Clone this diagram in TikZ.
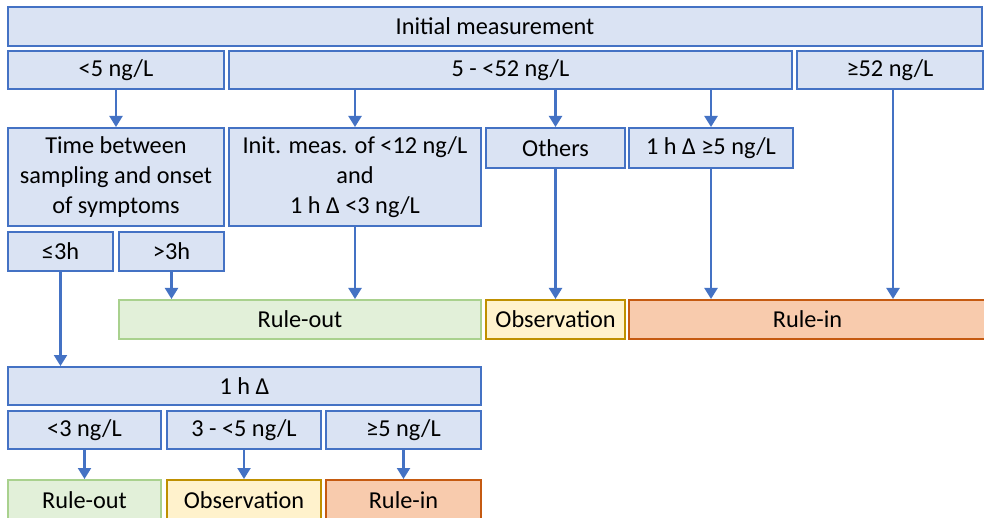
\documentclass[tikz,border=0pt]{standalone}
\usepackage{fontspec}
\setmainfont{Carlito}
\usetikzlibrary{arrows.meta}
\definecolor{bfill}{HTML}{DAE3F3}
\definecolor{bdraw}{HTML}{4472C4}
\definecolor{gfill}{HTML}{E2F0D9}
\definecolor{gdraw}{HTML}{A9D18E}
\definecolor{yfill}{HTML}{FFF2CC}
\definecolor{ydraw}{HTML}{BF9000}
\definecolor{ofill}{HTML}{F8CBAD}
\definecolor{odraw}{HTML}{C55A11}
\tikzset{
  base/.style={rectangle, line width=2pt, inner sep=0pt, align=center,
    font=\fontsize{24.3}{30}\selectfont, text=black},
  bbox/.style={base, fill=bfill, draw=bdraw},
  gbox/.style={base, fill=gfill, draw=gdraw},
  ybox/.style={base, fill=yfill, draw=ydraw},
  obox/.style={base, fill=ofill, draw=odraw},
  arr/.style={draw=bdraw, line width=2.2pt, -{Triangle[width=13pt,length=11pt]}},
}
\newcommand{\bx}[7]{% style, name, x1, y1, x2, y2, text
  \node[#1, minimum width={(#5-#3)*1pt}, minimum height={(#6-#4)*1pt}] (#2) at ({(#3+#5)/2},{(#4+#6)/2}) {#7};}
\begin{document}
\begin{tikzpicture}[x=1pt,y=-1pt]
\useasboundingbox (0,0) rectangle (984,518);
\fill[white] (0,0) rectangle (984,518);
\bx{bbox}{init}{8}{7}{982}{46}{Initial measurement}
\bx{bbox}{lt5}{8}{51}{224}{89}{<5 ng/L}
\bx{bbox}{mid}{229}{51}{792}{89}{5 - <52 ng/L}
\bx{bbox}{ge52}{797}{51}{983}{89}{≥52 ng/L}
\bx{bbox}{time}{8}{128}{224}{226}{Time between\\sampling and onset\\of symptoms}
\bx{bbox}{imeas}{229}{128}{481}{226}{Init. meas. of <12 ng/L\\and\\1 h Δ <3 ng/L}
\bx{bbox}{others}{486}{128}{625}{168}{Others}
\bx{bbox}{dge5}{629}{128}{793}{168}{1 h Δ ≥5 ng/L}
\bx{bbox}{le3h}{8}{232}{113}{271}{≤3h}
\bx{bbox}{gt3h}{119}{232}{224}{271}{>3h}
\bx{gbox}{ruleout}{119}{300}{481}{339}{Rule-out}
\bx{ybox}{obs}{486}{300}{625}{339}{Observation}
\bx{obox}{rulein}{629}{300}{986}{339}{Rule-in}
\bx{bbox}{delta}{8}{367}{481}{405}{1 h Δ}
\bx{bbox}{dlt3}{8}{411}{161}{449}{<3 ng/L}
\bx{bbox}{d35}{167}{411}{321}{449}{3 - <5 ng/L}
\bx{bbox}{dge5b}{326}{411}{481}{449}{≥5 ng/L}
\bx{gbox}{ruleoutb}{8}{480}{161}{520}{Rule-out}
\bx{ybox}{obsb}{167}{480}{321}{520}{Observation}
\bx{obox}{ruleinb}{326}{480}{481}{520}{Rule-in}
\draw[arr] (lt5.south) -- (time.north);
\draw[arr] (mid.south -| imeas.north) -- (imeas.north);
\draw[arr] (mid.south -| others.north) -- (others.north);
\draw[arr] (mid.south -| dge5.north) -- (dge5.north);
\draw[arr] ([xshift=3pt]ge52.south) -- ([xshift=3pt]ge52.south |- rulein.north);
\draw[arr] (gt3h.south) -- (gt3h.south |- ruleout.north);
\draw[arr] (imeas.south) -- (imeas.south |- ruleout.north);
\draw[arr] (others.south) -- (obs.north);
\draw[arr] (dge5.south) -- (dge5.south |- rulein.north);
\draw[arr] (le3h.south) -- (le3h.south |- delta.north);
\draw[arr] (dlt3.south) -- (ruleoutb.north);
\draw[arr] (d35.south) -- (obsb.north);
\draw[arr] (dge5b.south) -- (ruleinb.north);
\end{tikzpicture}
\end{document}
